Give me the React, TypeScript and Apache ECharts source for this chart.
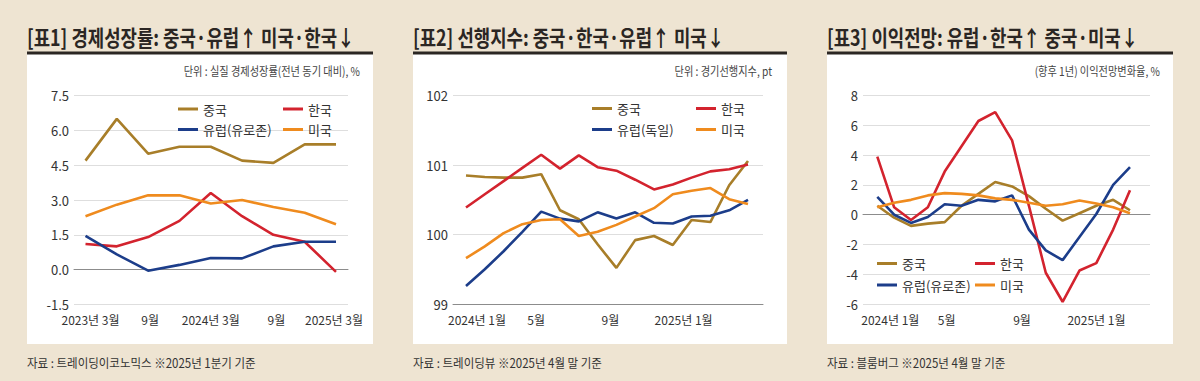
import React, { useEffect, useRef } from "react";
import * as echarts from "echarts";

// ---------- data ----------
const quarters = ["2023-03", "2023-06", "2023-09", "2023-12", "2024-03", "2024-06", "2024-09", "2024-12", "2025-03"];
const quarterLabels = ["2023년 3월", "", "9월", "", "2024년 3월", "", "9월", "", "2025년 3월"];
const gdpChina = [4.7, 6.5, 5.0, 5.3, 5.3, 4.7, 4.6, 5.4, 5.4];
const gdpKorea = [1.1, 1.0, 1.4, 2.1, 3.3, 2.3, 1.5, 1.2, -0.1];
const gdpEurope = [1.45, 0.65, -0.05, 0.2, 0.5, 0.48, 1.0, 1.2, 1.2];
const gdpUS = [2.3, 2.8, 3.2, 3.2, 2.85, 3.0, 2.7, 2.45, 1.95];

const months = ["2024-01", "2024-02", "2024-03", "2024-04", "2024-05", "2024-06", "2024-07", "2024-08", "2024-09", "2024-10", "2024-11", "2024-12", "2025-01", "2025-02", "2025-03", "2025-04"];
const monthLabels = ["2024년 1월", "", "", "", "5월", "", "", "", "9월", "", "", "", "2025년 1월", "", "", ""];

const leiChina = [100.85, 100.83, 100.82, 100.82, 100.87, 100.35, 100.22, 99.86, 99.52, 99.92, 99.98, 99.85, 100.21, 100.18, 100.71, 101.06];
const leiKorea = [100.39, 100.58, 100.77, 100.96, 101.15, 100.95, 101.14, 100.97, 100.92, 100.79, 100.65, 100.72, 100.82, 100.91, 100.94, 101.01];
const leiGermany = [99.26, 99.5, 99.76, 100.04, 100.33, 100.23, 100.19, 100.32, 100.23, 100.32, 100.17, 100.16, 100.26, 100.27, 100.35, 100.5];
const leiUS = [99.66, 99.83, 100.02, 100.15, 100.21, 100.22, 99.98, 100.04, 100.14, 100.26, 100.38, 100.58, 100.63, 100.67, 100.51, 100.44];

const epsChina = [0.6, -0.2, -0.75, -0.6, -0.5, 0.6, 1.4, 2.2, 1.9, 1.25, 0.4, -0.4, 0.1, 0.6, 1.0, 0.3];
const epsKorea = [3.9, 0.5, -0.35, 0.5, 2.9, 4.6, 6.3, 6.9, 5.0, 0.6, -3.9, -5.85, -3.75, -3.25, -1.0, 1.65];
const epsEurope = [1.2, 0.0, -0.55, -0.15, 0.7, 0.6, 1.0, 0.9, 1.3, -1.0, -2.4, -3.05, -1.5, 0.05, 2.0, 3.2];
const epsUS = [0.5, 0.8, 1.0, 1.3, 1.45, 1.4, 1.3, 1.1, 1.0, 0.8, 0.6, 0.7, 0.95, 0.75, 0.5, 0.1];

const titles = [
  "[표1] 경제성장률: 중국·유럽↑ 미국·한국↓",
  "[표2] 선행지수: 중국·한국·유럽↑ 미국↓",
  "[표3] 이익전망: 유럽·한국↑ 중국·미국↓",
];
const units = [
  "단위 : 실질 경제성장률(전년 동기 대비), %",
  "단위 : 경기선행지수, pt",
  "(향후 1년) 이익전망변화율, %",
];
const sources = [
  "자료 : 트레이딩이코노믹스 ※2025년 1분기 기준",
  "자료 : 트레이딩뷰 ※2025년 4월 말 기준",
  "자료 : 블룸버그 ※2025년 4월 말 기준",
];

// ---------- style ----------
const C_CN = "#A87E29";
const C_KR = "#D3232E";
const C_EU = "#1C3D8A";
const C_US = "#EF8B1E";
const BG = "#EEE4D2";
const DARK = "#2B2623";
const FONT_NUM = "'Liberation Sans Narrow', 'Noto Sans CJK KR', sans-serif";
const FONT_KR = "'Noto Sans CJK KR', sans-serif";

type Panel = {
  px: number; pw: number;
  bg: { left: number; right: number };
  data: { left: number; right: number };
  top: number; bottom: number;
  yMin: number; yMax: number; yInt: number; digits: number;
  cats: string[]; labels: string[];
  labelShift: number[];
  series: { name: string; color: string; data: number[] }[];
  legend: { x: number; y: number; name: string }[];
  unitX: number;
};

const panels: Panel[] = [
  {
    px: 27, pw: 346,
    bg: { left: 74, right: 1200 - 348 },
    data: { left: 85.5, right: 1200 - 336 },
    top: 95.7, bottom: 381 - 304.3,
    yMin: -1.5, yMax: 7.5, yInt: 1.5, digits: 1,
    cats: quarters, labels: quarterLabels,
    labelShift: [5, 0, 2, 0, 0, 0, 3, 0, -2],
    series: [
      { name: "중국", color: C_CN, data: gdpChina },
      { name: "한국", color: C_KR, data: gdpKorea },
      { name: "유럽(유로존)", color: C_EU, data: gdpEurope },
      { name: "미국", color: C_US, data: gdpUS },
    ],
    legend: [
      { x: 178, y: 109, name: "중국" },
      { x: 283, y: 109, name: "한국" },
      { x: 178, y: 129.5, name: "유럽(유로존)" },
      { x: 283, y: 129.5, name: "미국" },
    ],
    unitX: 360,
  },
  {
    px: 413, pw: 374,
    bg: { left: 453, right: 1200 - 763 },
    data: { left: 466, right: 1200 - 748 },
    top: 95.7, bottom: 381 - 304,
    yMin: 99, yMax: 102, yInt: 1, digits: 0,
    cats: months, labels: monthLabels,
    labelShift: [11, 0, 0, 0, -5, 0, 0, 0, -6, 0, 0, 0, -8, 0, 0, 0],
    series: [
      { name: "중국", color: C_CN, data: leiChina },
      { name: "한국", color: C_KR, data: leiKorea },
      { name: "유럽(독일)", color: C_EU, data: leiGermany },
      { name: "미국", color: C_US, data: leiUS },
    ],
    legend: [
      { x: 592, y: 108.5, name: "중국" },
      { x: 696, y: 108.5, name: "한국" },
      { x: 592, y: 129.5, name: "유럽(독일)" },
      { x: 696, y: 129.5, name: "미국" },
    ],
    unitX: 772,
  },
  {
    px: 827, pw: 346,
    bg: { left: 863, right: 1200 - 1150 },
    data: { left: 877.3, right: 1200 - 1130 },
    top: 95.7, bottom: 381 - 304,
    yMin: -6, yMax: 8, yInt: 2, digits: 0,
    cats: months, labels: monthLabels,
    labelShift: [13, 0, 0, 0, 2, 0, 0, 0, 10, 0, 0, 0, 17, 0, 0, 0],
    series: [
      { name: "중국", color: C_CN, data: epsChina },
      { name: "한국", color: C_KR, data: epsKorea },
      { name: "유럽(유로존)", color: C_EU, data: epsEurope },
      { name: "미국", color: C_US, data: epsUS },
    ],
    legend: [
      { x: 877, y: 263.5, name: "중국" },
      { x: 975, y: 263.5, name: "한국" },
      { x: 877, y: 285, name: "유럽(유로존)" },
      { x: 975, y: 285, name: "미국" },
    ],
    unitX: 1160,
  },
];

function buildOption() {
  const grid: any[] = [];
  const xAxis: any[] = [];
  const yAxis: any[] = [];
  const series: any[] = [];
  const legend: any[] = [];
  const graphic: any[] = [
    { type: "rect", z: -20, shape: { x: 0, y: 0, width: 1200, height: 381 }, style: { fill: BG } },
  ];

  panels.forEach((p, i) => {
    // panel decorations
    graphic.push({ type: "rect", z: -10, shape: { x: p.px, y: 54, width: p.pw, height: 290 }, style: { fill: "#ffffff" } });
    graphic.push({ type: "rect", z: -5, shape: { x: p.px, y: 51.5, width: p.pw, height: 3 }, style: { fill: DARK } });
    graphic.push({
      type: "text", x: p.px, y: 37, scaleX: 0.81,
      style: { text: titles[i], fill: DARK, fontSize: 22, fontWeight: "bold", fontFamily: FONT_KR, align: "left", verticalAlign: "middle", textAlign: "left", textVerticalAlign: "middle" },
    });
    graphic.push({
      type: "text", x: p.unitX, y: 71, scaleX: 0.85,
      style: { text: units[i], fill: "#444", fontSize: 12, fontFamily: FONT_KR, align: "right", verticalAlign: "middle", textAlign: "right", textVerticalAlign: "middle" },
    });
    graphic.push({
      type: "text", x: p.px, y: 362, scaleX: 0.92,
      style: { text: sources[i], fill: "#333", fontSize: 12.5, fontFamily: FONT_KR, align: "left", verticalAlign: "middle", textAlign: "left", textVerticalAlign: "middle" },
    });

    const gBg = i * 2;
    const gData = i * 2 + 1;
    grid.push({ left: p.bg.left, right: p.bg.right, top: p.top, bottom: p.bottom, containLabel: false });
    grid.push({ left: p.data.left, right: p.data.right, top: p.top, bottom: p.bottom, containLabel: false });

    // background axes: grid lines, y labels, zero line
    xAxis.push({
      gridIndex: gBg, type: "value", min: 0, max: 1,
      axisLabel: { show: false }, axisTick: { show: false }, splitLine: { show: false },
      axisLine: { show: true, onZero: true, lineStyle: { color: "#8c8c8c", width: 1 } },
    });
    yAxis.push({
      gridIndex: gBg, type: "value", min: p.yMin, max: p.yMax, interval: p.yInt,
      axisLine: { show: false }, axisTick: { show: false },
      axisLabel: {
        margin: 5, color: "#333", fontSize: 13, fontFamily: FONT_NUM,
        formatter: (v: number) => v.toFixed(p.digits),
      },
      splitLine: { show: true, lineStyle: { color: "#dedede", width: 1 } },
    });

    // data axes; rich tokens nudge individual tick labels like the reference
    const rich: any = {};
    p.labels.forEach((lab, idx) => {
      if (!lab) return;
      const s = p.labelShift[idx] || 0;
      rich["t" + idx] = {
        fontSize: 12, fontFamily: FONT_NUM, color: "#333",
        padding: s >= 0 ? [0, 0, 0, 2 * s] : [0, -2 * s, 0, 0],
      };
    });
    xAxis.push({
      gridIndex: gData, type: "category", data: p.cats, boundaryGap: false,
      axisLine: { show: false }, axisTick: { show: false }, splitLine: { show: false },
      axisLabel: {
        interval: 0, margin: 9, color: "#333", fontSize: 12, fontFamily: FONT_NUM,
        formatter: (_v: string, idx: number) => (p.labels[idx] ? `{t${idx}|${p.labels[idx]}}` : ""),
        rich,
      },
    });
    yAxis.push({
      gridIndex: gData, type: "value", min: p.yMin, max: p.yMax, interval: p.yInt, show: false,
      splitLine: { show: false },
    });

    p.series.forEach((s) => {
      series.push({
        type: "line", name: s.name, xAxisIndex: gData, yAxisIndex: gData,
        data: s.data, showSymbol: false, symbol: "none", color: s.color,
        lineStyle: { width: 2.6, color: s.color }, z: 3,
      });
    });

    p.legend.forEach((l) => {
      legend.push({
        data: [{ name: l.name, icon: "rect" }], left: l.x, top: l.y - 7.5,
        padding: 0, itemWidth: 20, itemHeight: 3, itemGap: 0, selectedMode: false,
        textStyle: { fontSize: 13, color: "#333", fontFamily: FONT_KR, lineHeight: 15 },
      });
    });
  });

  return { animation: false, backgroundColor: BG, graphic, grid, xAxis, yAxis, series, legend };
}

export default function App() {
  const ref = useRef<HTMLDivElement>(null);
  useEffect(() => {
    if (!ref.current) return;
    const chart = echarts.init(ref.current, undefined, { renderer: "svg" });
    chart.setOption(buildOption() as any);
    return () => chart.dispose();
  }, []);
  return (
    <div
      ref={ref}
      style={{ position: "absolute", left: 0, top: 0, width: 1200, height: 381 }}
    />
  );
}
